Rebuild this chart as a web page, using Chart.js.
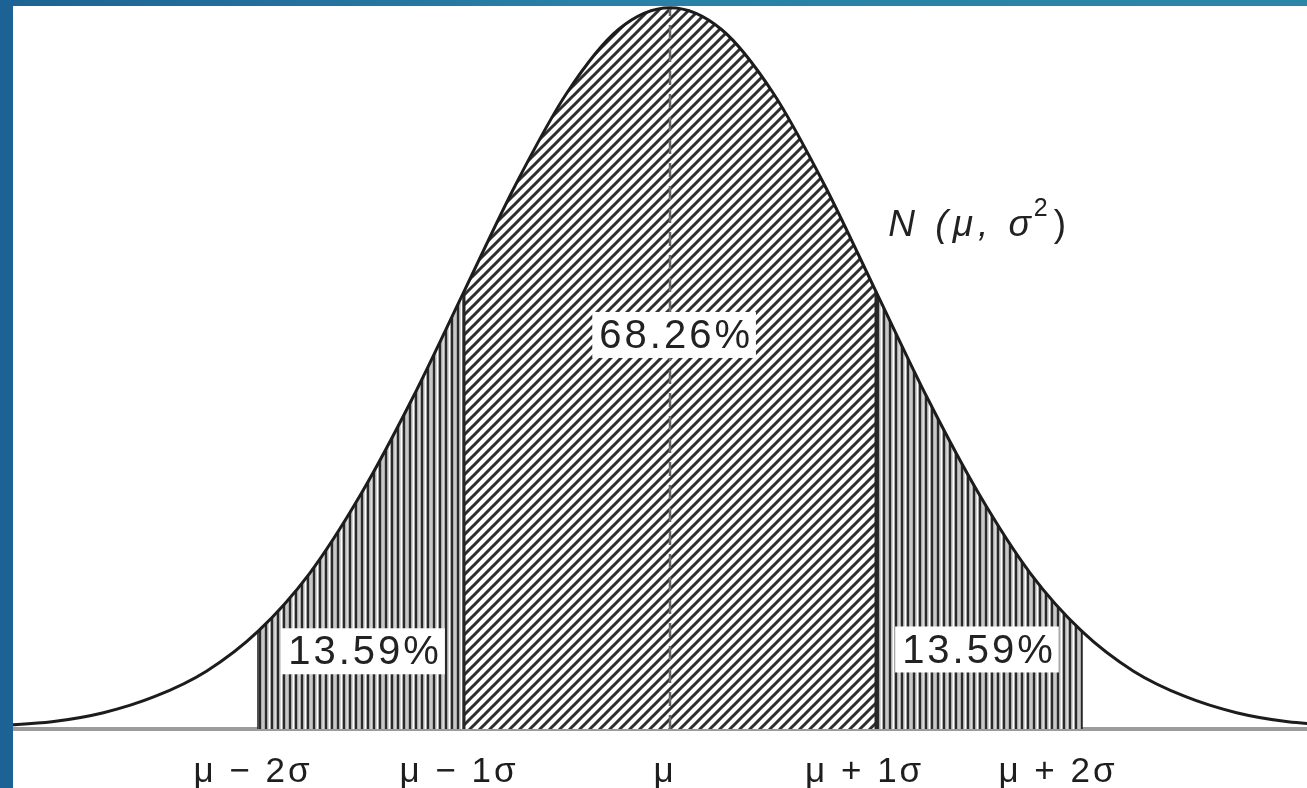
<!DOCTYPE html>
<html lang="en">
<head>
<meta charset="UTF-8">
<title>Normal distribution</title>
<script src="https://cdn.jsdelivr.net/npm/chart.js"></script>
<style>
  body{margin:0;width:1307px;height:788px;overflow:hidden;
       background:linear-gradient(90deg,#1d6294 0%,#2a80a6 45%,#2c87a7 100%);}
  #quadro{position:absolute;left:13px;top:6px;width:1294px;height:782px;background:#fff;}
</style>
</head>
<body>
<div id="quadro"><canvas id="grafico" width="1294" height="782"></canvas></div>
<script>
// x = distance from the mean in sigma units, y = height of the curve
const posicoes = [-3.25,-3,-2.75,-2.5,-2.25,-2,-1.75,-1.5,-1.25,-1,-0.75,-0.5,-0.25,0,
                  0.25,0.5,0.75,1,1.25,1.5,1.75,2,2.25,2.5,2.75,3,3.25]
const densidade = [0.002,0.004,0.009,0.018,0.032,0.054,0.086,0.130,0.183,0.242,0.301,0.352,0.387,0.399,
                   0.387,0.352,0.301,0.242,0.183,0.130,0.086,0.054,0.032,0.018,0.009,0.004,0.002]
const marcas = [-2,-1,0,1,2]
const rotulos = ['μ − 2σ','μ − 1σ','μ','μ + 1σ ','μ + 2σ   ']
const percentuais = ['13.59%','68.26%','13.59%']
const posPercentuais = [[-1.49,0.043],[0.02,0.218],[1.49,0.044]]  // where the % boxes sit (data coords)
const posCurva = [1.06,0.273]                                     // N(μ, σ²) label

const pontos = posicoes.map((x,i)=>({x:x,y:densidade[i]}))
const faixa = (a,b)=>pontos.filter(p=>p.x>=a && p.x<=b)
const alturaEm = v=>densidade[posicoes.indexOf(v)]

// hatching patterns
function hachuraDiagonal(){
  const c=document.createElement('canvas'); c.width=10; c.height=10
  const g=c.getContext('2d')
  g.fillStyle='#fff'; g.fillRect(0,0,10,10)
  g.strokeStyle='#2e2e2e'; g.lineWidth=3
  g.beginPath()
  g.moveTo(-5,15); g.lineTo(15,-5)
  g.moveTo(-5,5); g.lineTo(5,-5)
  g.moveTo(5,15); g.lineTo(15,5)
  g.stroke()
  return g.createPattern(c,'repeat')
}
function hachuraVertical(){
  const c=document.createElement('canvas'); c.width=24; c.height=4
  const g=c.getContext('2d')
  g.fillStyle='#a9a9a9'; g.fillRect(0,0,24,4)
  const linhas=[[0,2,'#2a2a2a'],[3.5,1.5,'#fff'],[6,2,'#2a2a2a'],[9.5,1,'#e6e6e6'],[12,2,'#2a2a2a'],
                [15.5,1.5,'#fff'],[18,2,'#2a2a2a'],[21.5,1.2,'#f0f0f0']]
  linhas.forEach(([x,w,cor])=>{ g.fillStyle=cor; g.fillRect(x,0,w,4) })
  return g.createPattern(c,'repeat')
}

const linhaVertical = (v,larg)=>({
  data:[{x:v,y:0},{x:v,y:alturaEm(v)}],
  borderColor:'#262626', borderWidth:larg, pointRadius:0, fill:false, order:2
})

const textos = {
  id:'textos',
  beforeDraw(chart){ chart.ctx.letterSpacing='3px' },
  afterDraw(chart){
    const ctx=chart.ctx, x=chart.scales.x, y=chart.scales.y
    ctx.save()
    ctx.letterSpacing='3px'
    ctx.font='40px "Liberation Sans", Arial, sans-serif'
    ctx.textAlign='center'; ctx.textBaseline='middle'
    percentuais.forEach((t,i)=>{
      const px=x.getPixelForValue(posPercentuais[i][0])
      const py=y.getPixelForValue(posPercentuais[i][1])
      const w=ctx.measureText(t).width+10
      ctx.fillStyle='#fff'; ctx.fillRect(px-w/2,py-23,w,46)
      ctx.fillStyle='#222'; ctx.fillText(t,px+2,py+2)
    })
    // N(μ, σ²)
    let px=x.getPixelForValue(posCurva[0]), py=y.getPixelForValue(posCurva[1])
    ctx.textAlign='left'; ctx.textBaseline='alphabetic'; ctx.fillStyle='#222'
    ctx.letterSpacing='5px'
    ctx.font='italic 37px "Liberation Sans", Arial, sans-serif'
    ctx.fillText('N (μ, σ',px,py); px+=ctx.measureText('N (μ, σ').width
    ctx.letterSpacing='0px'
    ctx.font='25px "Liberation Sans", Arial, sans-serif'
    ctx.fillText('2',px-2,py-20); px+=ctx.measureText('2').width+4
    ctx.font='37px "Liberation Sans", Arial, sans-serif'
    ctx.fillText(')',px,py)
    ctx.restore()
  }
}

new Chart(document.getElementById('grafico'),{
  type:'line',
  data:{datasets:[
    {data:pontos, borderColor:'#1c1c1c', borderWidth:3, pointRadius:0,
     cubicInterpolationMode:'monotone', fill:false, order:0},
    {data:[{x:0,y:0},{x:0,y:alturaEm(0)}], borderColor:'#666', borderWidth:2.5,
     borderDash:[14,9], pointRadius:0, fill:false, order:1},
    linhaVertical(-1,3), linhaVertical(1,3), linhaVertical(-2,1.5), linhaVertical(2,1.5),
    {data:faixa(-1,1), backgroundColor:hachuraDiagonal(), borderColor:'transparent', borderWidth:0,
     pointRadius:0, cubicInterpolationMode:'monotone', fill:'origin', order:5},
    {data:faixa(-2,-1), backgroundColor:hachuraVertical(), borderColor:'transparent', borderWidth:0,
     pointRadius:0, cubicInterpolationMode:'monotone', fill:'origin', order:5},
    {data:faixa(1,2), backgroundColor:hachuraVertical(), borderColor:'transparent', borderWidth:0,
     pointRadius:0, cubicInterpolationMode:'monotone', fill:'origin', order:5}
  ]},
  options:{
    responsive:false, animation:false, devicePixelRatio:1,
    layout:{padding:0},
    plugins:{legend:{display:false}, tooltip:{enabled:false}},
    scales:{
      x:{type:'linear', min:-3.189, max:3.092,
         afterBuildTicks:s=>{ s.ticks=marcas.map(v=>({value:v})) },
         afterFit:s=>{ s.height=59 },
         grid:{display:false, drawTicks:false},
         border:{display:true, color:'#9c9c9c', width:4},
         ticks:{autoSkip:false, maxRotation:0, padding:22, labelOffset:-5, color:'#1e1e1e',
                font:{family:'"Liberation Sans", Arial, sans-serif', size:35},
                callback:(v,i)=>rotulos[i]}},
      y:{display:false, min:0, max:0.4}
    }
  },
  plugins:[textos]
})
</script>
</body>
</html>
